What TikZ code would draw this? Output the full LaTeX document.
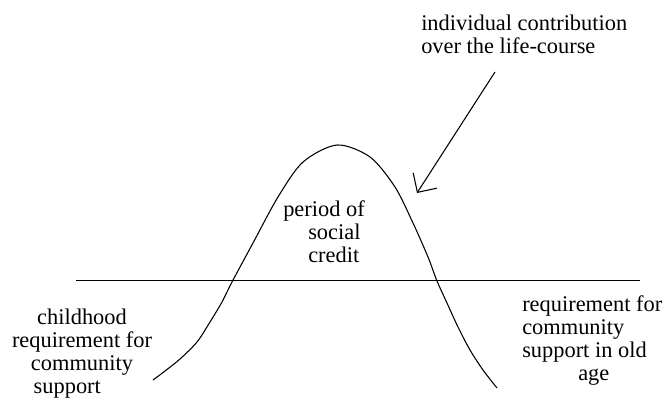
\documentclass[tikz,border=0pt]{standalone}
\usepackage{fontspec}
\setmainfont{Liberation Serif}
\usetikzlibrary{arrows.meta, positioning}
\tikzset{
  % etichette di testo
  lbl/.style={font=\fontsize{16.8}{17.25}\selectfont, inner sep=0pt},
  % curva del ciclo di vita e asse
  lifecurve/.style={line width=0.8pt, black},
  axisline/.style={line width=0.8pt, black},
  % freccia del contributo
  contrib/.style={line width=0.8pt, -{Straight Barb[angle=90:15pt, line width=0.8pt]}},
}

\begin{document}
\begin{tikzpicture}[x=0.75pt, y=-0.75pt]
  \useasboundingbox (0,0) rectangle (665,401);
  \draw[axisline] (76,280.5) -- (640,280.5);
  \draw[lifecurve] plot[smooth, tension=0.5] coordinates {(153,380) (165,371) (180,359) (197,342) (210,322) (222,302) (232,282) (253,243) (278,197) (303,162) (337,145) (370,157) (395,187) (413,223) (428,257) (437,281) (447,303) (458,327) (470,350) (483,370) (497,388)};
  % la base dei nodi su piu righe e' l'ultima riga
  \node[lbl, anchor=base west, align=left] (contribtxt) at (421,53) {individual contribution\\over the life-course};
  \coordinate (tail) at (495,72);
  \coordinate (tip) at (417,193);
  \draw[contrib] (tail) -- (tip);
  \node[lbl, anchor=base west, align=left] (credit) at (283,262) {period of\\\hspace*{18.75pt}social\\\hspace*{18.75pt}credit};
  \node[lbl, anchor=base, align=center] (child) at (82,393) {childhood\\requirement for\\community\\support\hspace*{22pt}};
  \node[lbl, anchor=base west, align=left] (oldage) at (522,380) {requirement for\\community\\support in old\\\hspace*{42pt}age};
\end{tikzpicture}
\end{document}
